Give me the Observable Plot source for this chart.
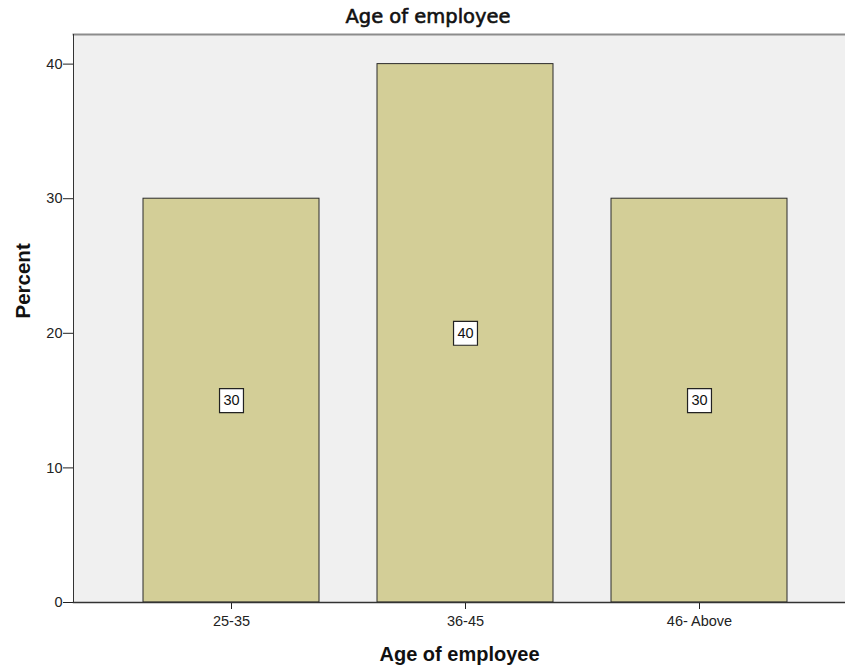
<!DOCTYPE html>
<html>
<head>
<meta charset="utf-8">
<script src="https://cdn.jsdelivr.net/npm/d3@7"></script>
<script src="https://cdn.jsdelivr.net/npm/@observablehq/plot@0.6"></script>
<style>
  html, body { margin: 0; padding: 0; background: #fff; }
  svg { display: block; }
</style>
</head>
<body>
<div id="chart"></div>
<script>
const categories = ["25-35", "36-45", "46- Above"];
const percents = [30, 40, 30];
const yTicks = [0, 10, 20, 30, 40];
const titleText = "Age of employee";
const xLabel = "Age of employee";
const yLabel = "Percent";

const data = categories.map((c, i) => ({age: c, percent: percents[i]}));

const chart = Plot.plot({
  width: 845,
  height: 668,
  marginTop: 34,
  marginBottom: 66,
  marginLeft: 73,
  marginRight: 0,
  style: {fontFamily: "'Liberation Sans', Arial, sans-serif", fontSize: "14.5px", color: "#222", background: "#fff"},
  x: {domain: categories, range: [83, 846], padding: 0.25, label: null},
  y: {domain: [0, 42.2], label: null},
  marks: [
    Plot.frame({fill: "#f0f0f0", stroke: null}),
    Plot.frame({anchor: "top", stroke: "#8c8c8c", strokeWidth: 2}),
    Plot.frame({anchor: "right", stroke: "#d8d8d8"}),
    Plot.barY(data, {x: "age", y: "percent", fill: "#d3ce97", stroke: "#2b2b2b", strokeWidth: 1}),
    Plot.dot(data, {x: "age", y: d => d.percent / 2, symbol: "square", r: 13.5, fill: "white", stroke: "#222", strokeWidth: 1.2}),
    Plot.text(data, {x: "age", y: d => d.percent / 2, text: d => String(d.percent), fontSize: 14.5, fill: "#111"}),
    Plot.axisY({ticks: yTicks, tickSize: 10, tickPadding: 1, label: null, stroke: "#222"}),
    Plot.axisX({tickSize: 7, tickPadding: 6, label: null, stroke: "#222"}),
    Plot.frame({anchor: "left", stroke: "#333"}),
    Plot.frame({anchor: "bottom", stroke: "#333", strokeWidth: 1.5}),
    Plot.text([titleText], {frameAnchor: "top", lineAnchor: "middle", dx: -31.5, dy: -18, fontSize: 19.5, fontFamily: "'DejaVu Sans', sans-serif", fill: "#111", stroke: "#111", strokeWidth: 0.6}),
    Plot.text([xLabel], {frameAnchor: "bottom", lineAnchor: "middle", dy: 52, fontSize: 20, fontWeight: "bold", fill: "#111"}),
    Plot.text([yLabel], {frameAnchor: "left", lineAnchor: "middle", dx: -50.5, rotate: -90, fontSize: 20.5, fontWeight: "bold", fill: "#111"})
  ]
});
document.getElementById("chart").appendChild(chart);
</script>
</body>
</html>
